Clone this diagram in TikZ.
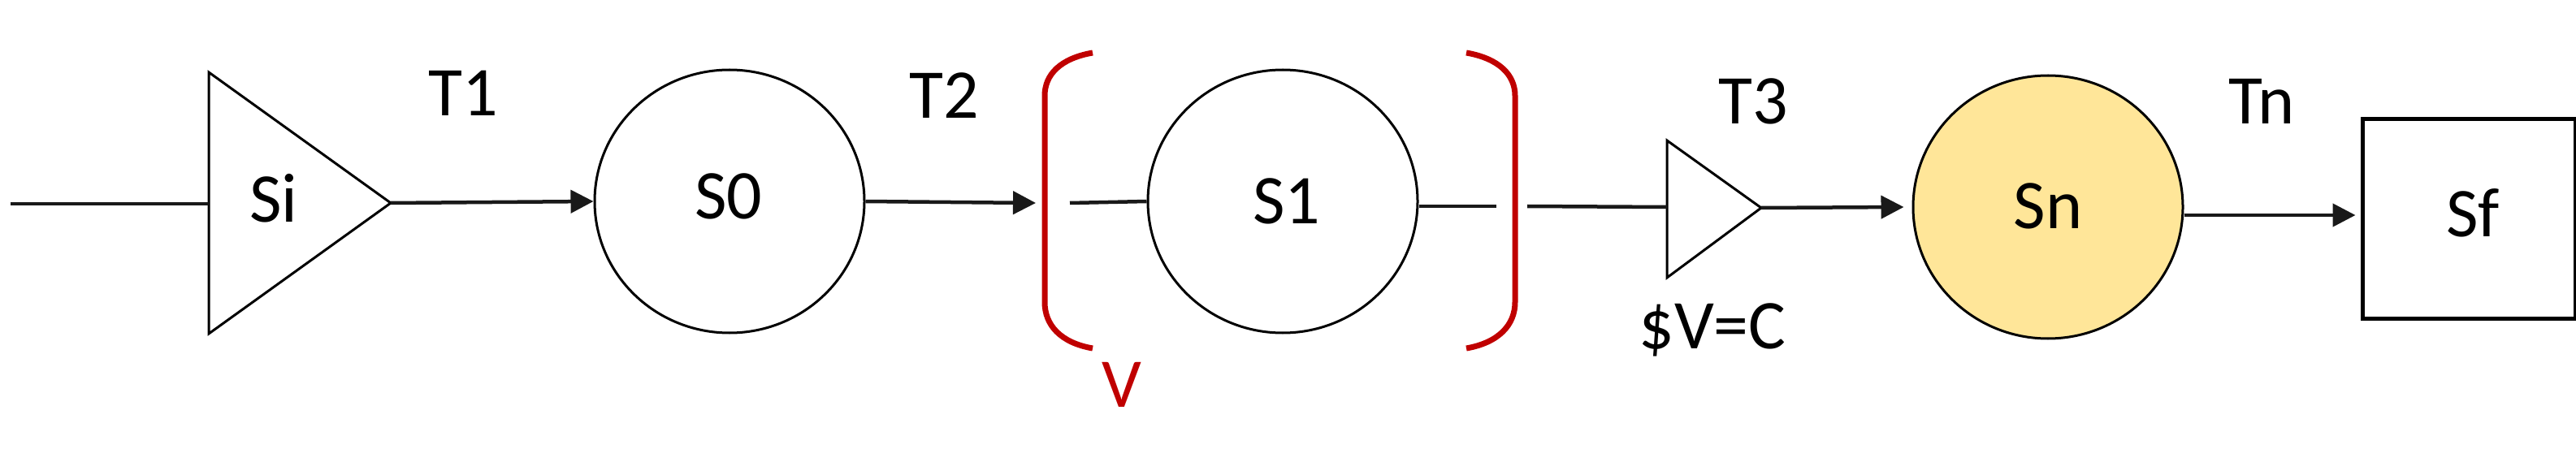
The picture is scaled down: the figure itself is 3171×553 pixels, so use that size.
\documentclass[tikz,border=0pt]{standalone}
\usepackage{fontspec}
\setmainfont{Carlito}
\usetikzlibrary{arrows.meta,shapes.geometric}
\definecolor{bred}{HTML}{C00000}
\definecolor{sny}{HTML}{FFE699}
\tikzset{
  lbl/.style={anchor=base,inner sep=0pt,font=\fontsize{86}{100}\selectfont},
  stbox/.style={draw=black,line width=3pt,ellipse,minimum width=332pt,minimum height=324pt,inner sep=0pt},
  tri/.style={draw=black,line width=3pt,line join=miter},
  conn/.style={draw=black!90,line width=4.5pt},
  arr/.style={conn,-{Triangle[length=28pt,width=28pt]}},
  brk/.style={draw=bred,line width=7pt}
}
\begin{document}
\begin{tikzpicture}[x=1pt,y=-1pt]
\useasboundingbox (0,0) rectangle (3171,553);
% triangles
\coordinate (siL) at (257,251);
\coordinate (siA) at (481,250);
\draw[tri] (257,89) -- (257,411) -- (siA) -- cycle;
\coordinate (tL) at (2052,255);
\coordinate (tA) at (2168,256);
\draw[tri] (2052,173) -- (2052,342) -- (tA) -- cycle;
% states
\node[stbox] (s0) at (898,248) {};
\node[stbox] (s1) at (1579,248) {};
\node[stbox,fill=sny] (sn) at (2521,255) {};
\node[draw=black,line width=5pt,minimum width=262pt,minimum height=245pt,inner sep=0pt] (sf) at (3039,269.5) {};
% labels
\node[lbl] (lsi) at (337,273) {Si};
\node[lbl] (ls0) at (897,270) {S0};
\node[lbl] (ls1) at (1584,276) {S1};
\node[lbl] (lsn) at (2521,281) {Sn};
\node[lbl] (lsf) at (3044,291) {Sf};
\node[lbl] (t1) at (570,143) {T1};
\node[lbl] (t2) at (1162,146) {T2};
\node[lbl] (t3) at (2158,153) {T3};
\node[lbl] (tn) at (2784,153) {Tn};
\node[lbl,text=bred] (v) at (1381,501) {V};
\node[lbl] (vc) at (2108,429) {\$V=C};
% connectors
\coordinate (in0) at (13,251);
\coordinate (b1) at (1275,250);
\coordinate (b2) at (1317,250);
\coordinate (b3) at (1842,254);
\coordinate (b4) at (1880,254);
\draw[conn] (in0) -- (siL);
\draw[arr] (siA) -- (s0.west);
\draw[arr] (s0.east) -- (b1);
\draw[conn] (b2) -- (s1.west);
\draw[conn] (s1.east |- b3) -- (b3);
\draw[conn] (b4) -- (tL);
\draw[arr] (tA) -- ([xshift=-10pt]sn.west);
\draw[arr] (2689,265) -- ([xshift=-6pt]sf.west |- 0,265);
% brackets
\draw[brk] (1345,65) .. controls (1305,72) and (1286,92) .. (1286,118) -- (1286,372) .. controls (1286,400) and (1305,422) .. (1345,429);
\draw[brk] (1805,65) .. controls (1845,72) and (1865,92) .. (1865,118) -- (1865,372) .. controls (1865,400) and (1845,422) .. (1805,429);
\end{tikzpicture}
\end{document}
